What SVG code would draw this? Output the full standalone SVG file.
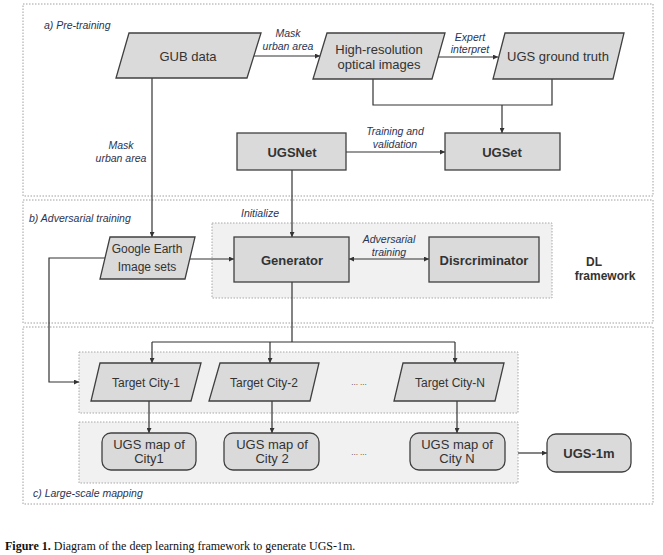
<svg xmlns="http://www.w3.org/2000/svg" width="663" height="555" viewBox="0 0 663 555">
<defs>
<marker id="ah" viewBox="0 0 10 10" refX="10" refY="5" markerWidth="5" markerHeight="5" markerUnits="userSpaceOnUse" orient="auto-start-reverse">
<path d="M0,0 L10,5 L0,10 z" fill="#333"/>
</marker>
<style>
.panel{fill:#fff;stroke:#a0a0a0;stroke-width:1;stroke-dasharray:1.5,1.5}
.group{fill:#f1f1f1;stroke:#a8a8a8;stroke-width:1;stroke-dasharray:1.5,1.5}
.node{fill:#dadada;stroke:#404040;stroke-width:1.3}
.t{font-family:"Liberation Sans",Arial,sans-serif;fill:#333;text-anchor:middle}
.n13{font-size:13px}
.n12{font-size:12px}
.b{font-weight:bold}
.lab{font-family:"Liberation Sans",Arial,sans-serif;font-style:italic;font-size:10.5px;fill:#2b3350;text-anchor:middle}
.plab{font-family:"Liberation Sans",Arial,sans-serif;font-style:italic;font-size:10.5px;fill:#2b3350}
.c{fill:none;stroke:#333;stroke-width:1.2}
.ca{fill:none;stroke:#333;stroke-width:1.2;marker-end:url(#ah)}
</style>
</defs>
<rect width="663" height="555" fill="#fff"/>

<g id="panels">
<rect class="panel" x="23" y="4" width="630" height="192"/>
<rect class="panel" x="23" y="200" width="630" height="123"/>
<rect class="panel" x="23" y="327" width="630" height="177"/>
<text class="plab" x="44" y="29">a) Pre-training</text>
<text class="plab" x="29" y="222">b) Adversarial training</text>
<text class="plab" x="33" y="497">c) Large-scale mapping</text>
</g>

<g id="groups">
<rect class="group" x="212" y="223" width="340" height="75"/>
<rect class="group" x="79" y="352" width="439" height="61"/>
<rect class="group" x="79" y="422" width="439" height="61"/>
</g>

<g id="connectors">
<path class="ca" d="M254,56 H320"/>
<path class="ca" d="M438,57 H498"/>
<path class="c" d="M373,79 V105 H552 V79"/>
<path class="ca" d="M502,105 V133"/>
<path class="ca" d="M346,152 H445"/>
<path class="ca" d="M152,78 V237"/>
<path class="ca" d="M292,170 V237"/>
<path class="ca" d="M190,259 H234"/>
<path class="ca" d="M349,259 H429" marker-start="url(#ah)"/>
<path class="ca" d="M105,258 H49 V382 H79"/>
<path class="c" d="M292,282 V342 M152,342 H455"/>
<path class="ca" d="M152,342 V363"/>
<path class="ca" d="M270,342 V363"/>
<path class="ca" d="M455,342 V363"/>
<path class="ca" d="M149,401 V433"/>
<path class="ca" d="M272,401 V433"/>
<path class="ca" d="M457,401 V433"/>
<path class="ca" d="M518,453 H547"/>
<text class="lab" x="288" y="37">Mask</text>
<text class="lab" x="288" y="50">urban area</text>
<text class="lab" x="470" y="41">Expert</text>
<text class="lab" x="470" y="53">interpret</text>
<text class="lab" x="395" y="135">Training and</text>
<text class="lab" x="395" y="148">validation</text>
<text class="lab" x="121" y="149">Mask</text>
<text class="lab" x="121" y="162">urban area</text>
<text class="lab" x="260" y="217">Initialize</text>
<text class="lab" x="389" y="243">Adversarial</text>
<text class="lab" x="389" y="256">training</text>
</g>

<g id="gub">
<polygon class="node" points="129,33 261,33 247,78 116,78"/>
<text class="t n13" x="188" y="61">GUB data</text>
</g>
<g id="highres">
<polygon class="node" points="327,33 445,33 432,79 313,79"/>
<text class="t n13" x="379" y="54">High-resolution</text>
<text class="t n13" x="379" y="69">optical images</text>
</g>
<g id="groundtruth">
<polygon class="node" points="505,33 624,33 613,79 493,79"/>
<text class="t n13" x="558" y="61">UGS ground truth</text>
</g>
<g id="ugsnet">
<rect class="node" x="237" y="133" width="109" height="37"/>
<text class="t n13 b" x="292" y="156.5">UGSNet</text>
</g>
<g id="ugset">
<rect class="node" x="445" y="133" width="115" height="37"/>
<text class="t n13 b" x="502" y="156.5">UGSet</text>
</g>
<g id="googleearth">
<polygon class="node" points="110,237 195,237 185,279 100,279"/>
<text class="t n12" x="147" y="252.5">Google Earth</text>
<text class="t n12" x="147" y="271">Image sets</text>
</g>
<g id="generator">
<rect class="node" x="234" y="237" width="115" height="45"/>
<text class="t n13 b" x="292" y="264.5">Generator</text>
</g>
<g id="discriminator">
<rect class="node" x="429" y="237" width="110" height="45"/>
<text class="t n13 b" x="484" y="264.5">Disrcriminator</text>
</g>
<g id="dlframework">
<text class="t n12 b" x="594" y="266">DL</text>
<text class="t n12 b" x="605" y="280">framework</text>
</g>
<g id="city1">
<polygon class="node" points="100,363 201,363 191,401 91,401"/>
<text class="t n12" x="146" y="387">Target City-1</text>
</g>
<g id="city2">
<polygon class="node" points="220,363 319,363 310,401 209,401"/>
<text class="t n12" x="264" y="387">Target City-2</text>
</g>
<g id="dots1">
<text class="t" style="font-size:8px" x="359" y="385">... ...</text>
</g>
<g id="cityN">
<polygon class="node" points="403,363 504,363 495,401 394,401"/>
<text class="t n12" x="450" y="387">Target City-N</text>
</g>
<g id="map1">
<rect class="node" x="102" y="433" width="94" height="37" rx="9"/>
<text class="t n13" x="149" y="448.5">UGS map of</text>
<text class="t n13" x="149" y="462.5">City1</text>
</g>
<g id="map2">
<rect class="node" x="224" y="433" width="95" height="37" rx="9"/>
<text class="t n13" x="272" y="448.5">UGS map of</text>
<text class="t n13" x="272" y="462.5">City 2</text>
</g>
<g id="dots2">
<text class="t" style="font-size:8px" x="359" y="455">... ...</text>
</g>
<g id="mapN">
<rect class="node" x="410" y="433" width="95" height="37" rx="9"/>
<text class="t n13" x="457" y="448.5">UGS map of</text>
<text class="t n13" x="457" y="462.5">City N</text>
</g>
<g id="ugs1m">
<rect class="node" x="547" y="434" width="84" height="38" rx="9"/>
<text class="t n13 b" x="589" y="457.5">UGS-1m</text>
</g>

<text x="5" y="550" style="font-family:'Liberation Serif','Times New Roman',serif;font-size:12px;fill:#111"><tspan font-weight="bold">Figure 1.</tspan> Diagram of the deep learning framework to generate UGS-1m.</text>
</svg>
